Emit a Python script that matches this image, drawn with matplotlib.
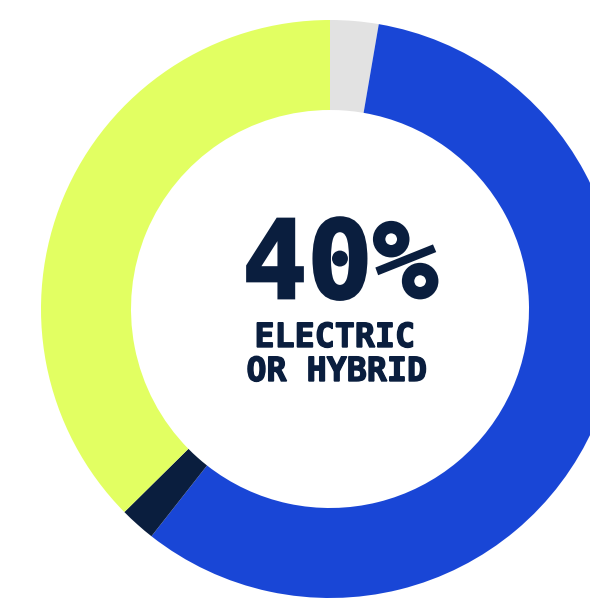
import matplotlib.pyplot as plt
import matplotlib.patheffects as pe

# share of vehicles, clockwise from the top
labels = ['Other', 'Petrol or diesel', 'Hybrid', 'Electric']
shares = [2.7, 57.9, 2.0, 37.4]
colors = ['#e2e2e2', '#1946d6', '#0a1e3e', '#e2ff62']

headline = '40%'
caption = ['ELECTRIC', 'OR HYBRID']
ink = '#0a1e3e'

W, H = 590, 598
fig = plt.figure(figsize=(W / 100, H / 100), dpi=100)
ax = fig.add_axes([0, 0, 1, 1])

# axes in pixel units so the ring sits where the original does
ax.pie(shares, colors=colors, startangle=90, counterclock=False,
       radius=289, center=(330, H - 309),
       wedgeprops=dict(width=90, linewidth=0))
ax.set_xlim(0, W)
ax.set_ylim(0, H)
ax.set_aspect('auto')
ax.axis('off')

mono = 'DejaVu Sans Mono'
# the original face is a little heavier than DejaVu bold
heavy = [pe.withStroke(linewidth=2.0, foreground=ink, joinstyle='miter')]
medium = [pe.withStroke(linewidth=1.0, foreground=ink, joinstyle='miter')]

ax.text(340, H - 298, headline, ha='center', va='baseline',
        fontsize=78, fontweight='bold', family=mono, color=ink,
        path_effects=heavy)
ax.text(335, H - 347, caption[0], ha='center', va='baseline',
        fontsize=24, fontweight='bold', family=mono, color=ink,
        path_effects=medium)
ax.text(337, H - 381, caption[1], ha='center', va='baseline',
        fontsize=24, fontweight='bold', family=mono, color=ink,
        path_effects=medium)

fig.savefig('out.png', dpi=100, facecolor='white')
